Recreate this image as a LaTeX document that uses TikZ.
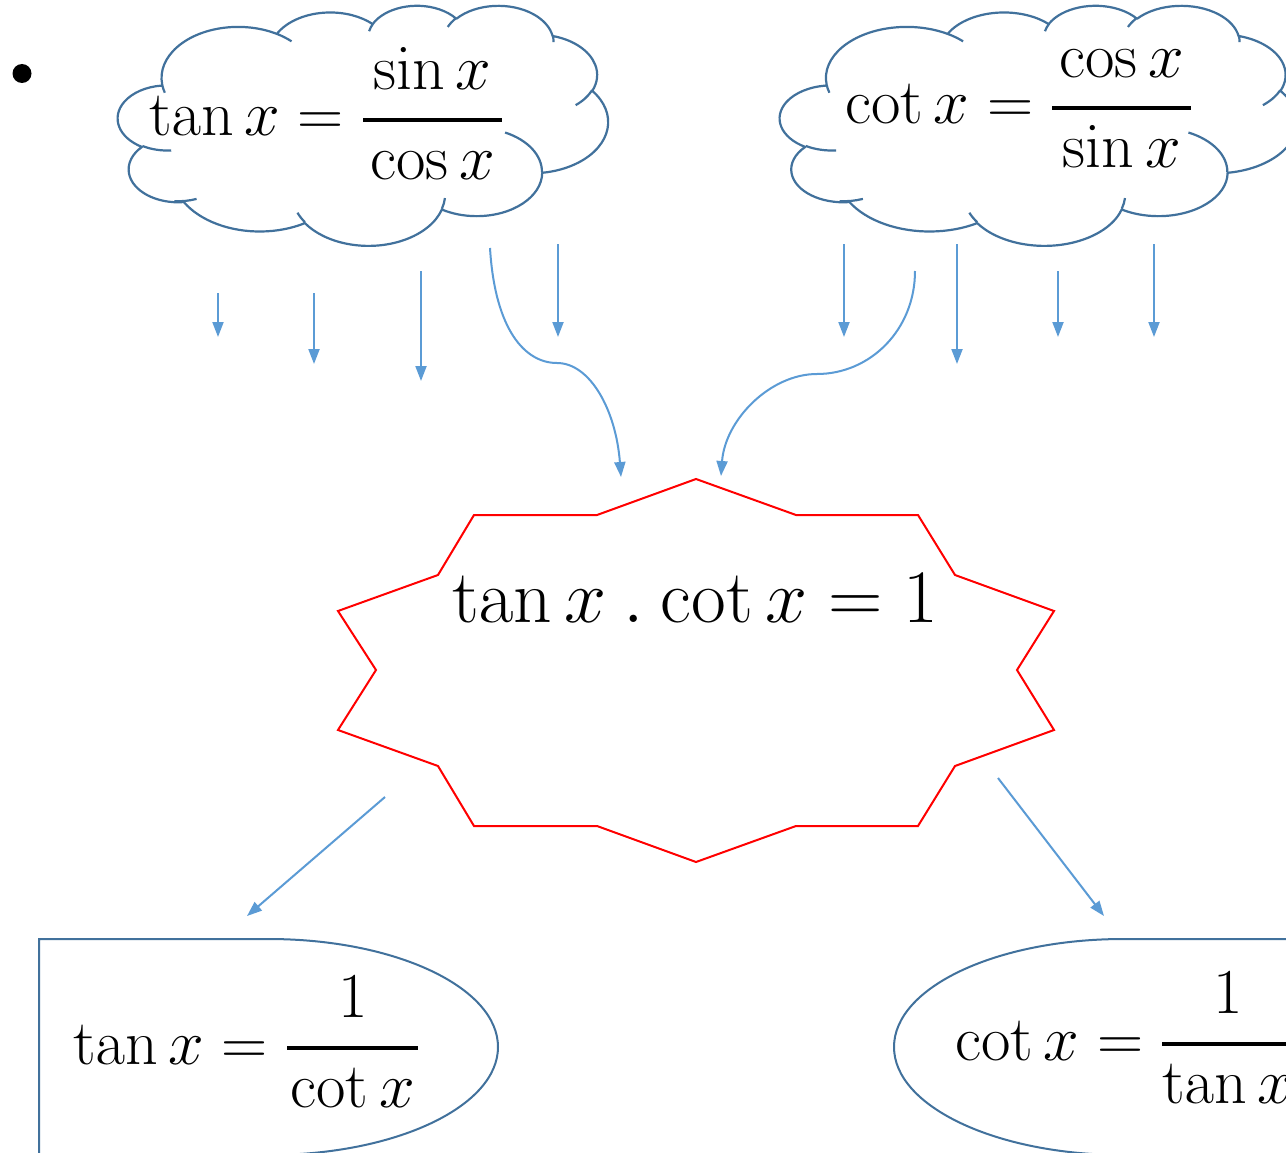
\RequirePackage{fix-cm}
\documentclass[tikz,border=0pt]{standalone}
\usetikzlibrary{arrows.meta}
\definecolor{cloudblue}{HTML}{41719C}
\definecolor{arrowblue}{HTML}{5B9BD5}
\definecolor{starred}{HTML}{FF0000}
% visual (OOXML) angle -> parametric angle on an ellipse
\newcommand\ooT[3]{((#3)+(atan2((#1)*sin(#3),(#2)*cos(#3))-(#3))-360*round((atan2((#1)*sin(#3),(#2)*cos(#3))-(#3))/360))}
\newcommand\ooarc[4]{arc[x radius=#1, y radius=#2, start angle={\ooT{#1}{#2}{#3}}, end angle={\ooT{#1}{#2}{(#3)+(#4)}}]}
\newcommand\cloudshape{%
 (390,1437)
 \ooarc{675.3}{919.0}{-190.4875}{123.7805}
 \ooarc{533.3}{726.7}{-144.1024}{89.9452}
 \ooarc{436.5}{594.5}{-145.8079}{99.7230}
 \ooarc{485.7}{659.5}{-130.9861}{117.2417}
 \ooarc{533.3}{727.3}{-78.7089}{109.0269}
 \ooarc{677.5}{922.0}{-46.2673}{130.2690}
 \ooarc{578.5}{786.7}{0.6250}{114.0333}
 \ooarc{675.2}{921.5}{22.4516}{115.1726}
 \ooarc{772.0}{1054.3}{66.2426}{75.7110}
 \ooarc{436.0}{591.8}{-274.9421}{146.7356}
 \ooarc{434.5}{594.5}{-246.8285}{152.5189}
 -- cycle
 (469.3,2617.7) \ooarc{434.5}{594.5}{86.742}{26.4295}
 (692.8,3489.9) \ooarc{436.0}{591.8}{73.6036}{19.6086}
 (1647.8,3909.0) \ooarc{675.2}{921.5}{137.6242}{13.7771}
 (2882.7,3475.1) \ooarc{675.2}{921.5}{6.4533}{16.0}
 (3412.9,2295.4) \ooarc{578.5}{786.7}{-70.2924}{70.9174}
 (4179.8,1535.4) \ooarc{533.3}{727.3}{30.3180}{27.7515}
 (3832.4,542.6) \ooarc{485.7}{659.5}{-13.7443}{14.8572}
 (2907.8,395.2) \ooarc{485.7}{659.5}{-149.1815}{18.1879}
 (2214.1,472.0) \ooarc{436.5}{594.5}{-163.4943}{17.6881}
 (1400.0,519.2) \ooarc{675.3}{919.0}{-66.7070}{12.3194}
 (412.7,1578.9) \ooarc{675.3}{919.0}{157.6544}{11.8582}
}
% fraction with a heavier bar and a slightly higher numerator
\newcommand\numdepth{\vrule width 0pt height 0pt depth 16.5pt}
\newcommand\bfrac[2]{{\numdepth #1\above 4pt #2}}
\tikzset{
 cloudline/.style={draw=cloudblue, line width=2.2pt, line join=round},
 shapeline/.style={draw=cloudblue, line width=2pt},
 starline/.style={draw=starred, line width=2pt, line join=miter},
 arr/.style={draw=arrowblue, line width=2pt, -{Triangle[length=15pt,width=11pt]}},
 eq/.style={inner sep=0pt, anchor=base west, font=\fontsize{64}{76}\selectfont},
 eqbig/.style={inner sep=0pt, anchor=base west, font=\fontsize{75.5}{90}\selectfont},
}
\begin{document}
\begin{tikzpicture}[x=1pt,y=-1pt]
\useasboundingbox (0,0) rectangle (1286,1153);
\fill[white] (0,0) rectangle (1286,1153);
% bullet
\fill[black] (22,73.5) circle[radius=9.5];
% clouds
\begin{scope}[shift={(118,5)}, x=0.113426pt, y=-0.055556pt]
 \draw[cloudline] \cloudshape;
\end{scope}
\begin{scope}[shift={(780,5)}, x=0.119676pt, y=-0.055556pt]
 \draw[cloudline] \cloudshape;
\end{scope}
\node[eq] (tandef) at (149,136) {$\displaystyle \tan x = \bfrac{\mkern2mu\sin x\mkern2mu}{\mkern2mu\cos x\mkern2mu}$};
\node[eq] (cotdef) at (845,124) {$\displaystyle \cot x = \bfrac{\mkern2mu\cos x\mkern2mu}{\mkern2mu\sin x\mkern2mu}$};
% star
\draw[starline] (696,479) -- (796,515) -- (918,515) -- (955,575) -- (1054,611) -- (1017,670)
 -- (1054,730) -- (955,766) -- (918,826) -- (796,826) -- (696,862) -- (597,826)
 -- (474,826) -- (438,766) -- (338,730) -- (376,670) -- (338,611) -- (438,575)
 -- (474,515) -- (597,515) -- cycle;
\node[eqbig] (prod) at (452,622) {$\tan x \mathbin{.} \cot x = 1$};
% bottom shapes
\draw[shapeline] (39,1170) -- (39,939) -- (268.5,939)
 arc[x radius=229.5, y radius=108, start angle=-90, end angle=90] -- (39,1155);
\draw[shapeline] (1370,939) -- (1123.5,939)
 arc[x radius=229.5, y radius=108, start angle=-90, end angle=-270] -- (1370,1155);
\node[eq] (tanrec) at (73,1064) {$\displaystyle \tan x = \bfrac{1}{\mkern1mu\cot x\mkern1mu}$};
\node[eq] (cotrec) at (955,1060) {$\displaystyle \cot x = \bfrac{1}{\tan x}$};
% arrow coordinates
\coordinate (a1s) at (218,293); \coordinate (a1e) at (218,337);
\coordinate (a2s) at (314,293); \coordinate (a2e) at (314,364);
\coordinate (a3s) at (421,271); \coordinate (a3e) at (421,381);
\coordinate (a4s) at (490,248); \coordinate (a4m) at (557,363); \coordinate (a4e) at (621,477);
\coordinate (a5s) at (558,244); \coordinate (a5e) at (558,337);
\coordinate (a6s) at (844,244); \coordinate (a6e) at (844,337);
\coordinate (a7s) at (915,271); \coordinate (a7m) at (817,374); \coordinate (a7e) at (721,476);
\coordinate (a8s) at (957,244); \coordinate (a8e) at (957,364);
\coordinate (a9s) at (1058,271); \coordinate (a9e) at (1058,337);
\coordinate (a10s) at (1154,244); \coordinate (a10e) at (1154,337);
\coordinate (a11s) at (385,797); \coordinate (a11e) at (247,916);
\coordinate (a12s) at (998,778); \coordinate (a12e) at (1104,916);
\draw[arr] (a1s) -- (a1e);
\draw[arr] (a2s) -- (a2e);
\draw[arr] (a3s) -- (a3e);
\draw[arr] (a4s) .. controls (495,330) and (525,363) .. (a4m) .. controls (590,363) and (616,410) .. (a4e);
\draw[arr] (a5s) -- (a5e);
\draw[arr] (a6s) -- (a6e);
\draw[arr] (a7s) .. controls (915,330) and (870,374) .. (a7m) .. controls (770,374) and (725,420) .. (a7e);
\draw[arr] (a8s) -- (a8e);
\draw[arr] (a9s) -- (a9e);
\draw[arr] (a10s) -- (a10e);
\draw[arr] (a11s) -- (a11e);
\draw[arr] (a12s) -- (a12e);
\end{tikzpicture}
\end{document}
